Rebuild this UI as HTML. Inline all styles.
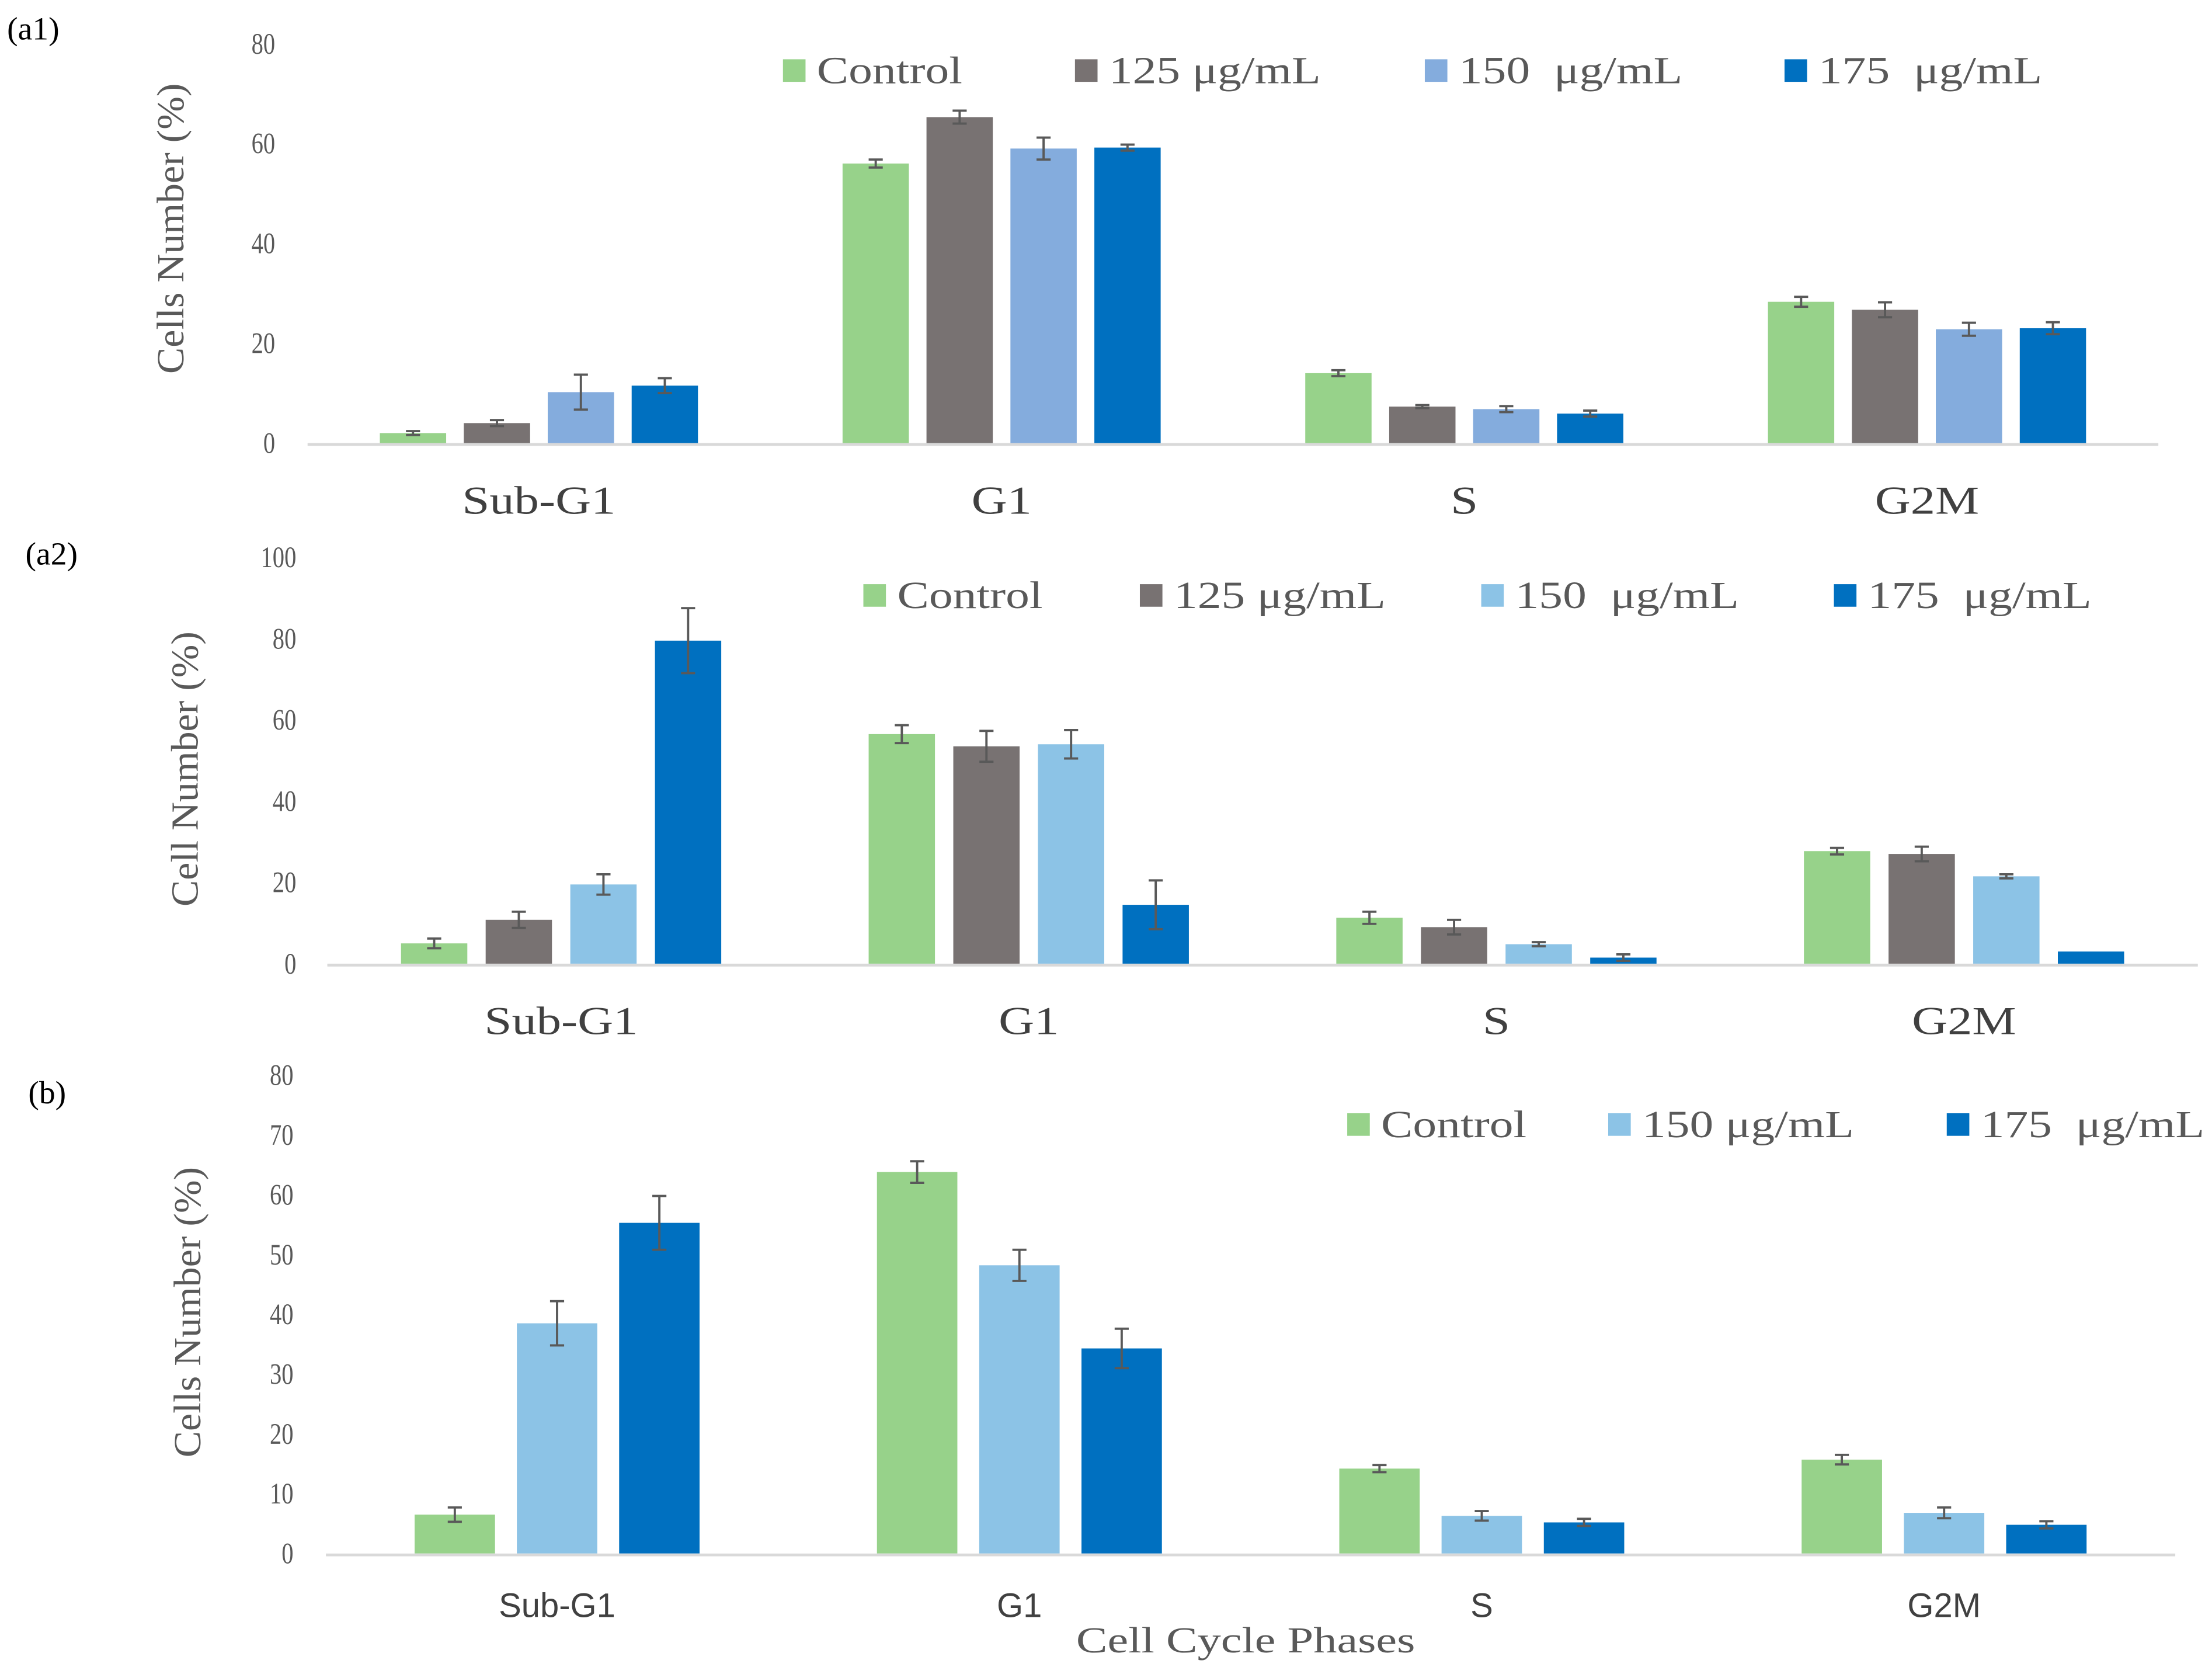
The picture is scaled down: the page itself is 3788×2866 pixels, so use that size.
<!DOCTYPE html>
<html><head><meta charset="utf-8"><style>
html,body{margin:0;padding:0;background:#fff;}
svg{display:block;}
text{white-space:pre;}
</style></head><body>
<svg id="fig" width="3788" height="2866" viewBox="0 0 1568 1186.4" xmlns="http://www.w3.org/2000/svg"></svg>
<script>
const categories = ["Sub-G1","G1","S","G2M"];
// Panel a1
const a1Series = ["Control","125 μg/mL","150  μg/mL","175  μg/mL"];
const a1Control = [2,56,14,28.3];
const a1C125 = [4,65.3,7.3,26.7];
const a1C150 = [10.2,59,6.8,22.8];
const a1C175 = [11.5,59.2,5.9,23];
const a1ErrControl = [0.4,0.8,0.6,1];
const a1Err125 = [0.6,1.3,0.3,1.5];
const a1Err150 = [3.5,2.2,0.6,1.3];
const a1Err175 = [1.5,0.6,0.6,1.2];
const a1Ticks = [0,20,40,60,80];
// Panel a2
const a2Series = ["Control","125 μg/mL","150  μg/mL","175  μg/mL"];
const a2Control = [5,56.5,11.3,27.7];
const a2C125 = [10.8,53.5,9,27];
const a2C150 = [19.5,54,4.8,21.5];
const a2C175 = [79.5,14.5,1.5,3];
const a2ErrControl = [1.2,2.2,1.5,0.8];
const a2Err125 = [2,3.8,1.8,1.8];
const a2Err150 = [2.5,3.5,0.5,0.5];
const a2Err175 = [8,6,0.8,0];
const a2Ticks = [0,20,40,60,80,100];
// Panel b
const bSeries = ["Control","150 μg/mL","175  μg/mL"];
const bControl = [6.5,63.8,14.2,15.7];
const bC150 = [38.5,48.2,6.3,6.8];
const bC175 = [55.3,34.3,5.2,4.8];
const bErrControl = [1.2,1.8,0.6,0.8];
const bErr150 = [3.7,2.6,0.8,0.9];
const bErr175 = [4.5,3.3,0.6,0.6];
const bTicks = [0,10,20,30,40,50,60,70,80];

const NS="http://www.w3.org/2000/svg";
const svg=document.getElementById('fig');
const SERIF='"Liberation Serif",serif', SANS='"Liberation Sans",sans-serif';
function mk(tag,attrs,parent){const e=document.createElementNS(NS,tag);for(const k in attrs)e.setAttribute(k,attrs[k]);(parent||svg).appendChild(e);return e;}
function txt(s,attrs,parent,font,widthScale){
  const t=mk('text',attrs,parent);t.textContent=s;t.style.fontFamily=font||SERIF;
  if(widthScale){const w=t.getComputedTextLength();if(w>0){t.setAttribute('textLength',w*widthScale);t.setAttribute('lengthAdjust','spacingAndGlyphs');}}
  return t;
}

function panel(cfg){
  const g=mk('g',{});
  
  
  const max=cfg.ticks[cfg.ticks.length-1];
  const y=v=>cfg.y0-(v/max)*(cfg.y0-cfg.yTop);
  const cw=(cfg.x1-cfg.x0)/categories.length;
  const xc=i=>cfg.x0+cw*(i+0.5);
  const pl=txt(cfg.label,{x:cfg.labelX,y:cfg.labelY,'font-size':23,fill:'#000'},g);
  
  
  cfg.ticks.forEach(t=>{
    const tt=txt(String(t),{x:cfg.tickX,y:y(t)+7,'font-size':21,fill:'#595959','text-anchor':'end',transform:`translate(${cfg.tickX},0) scale(0.8,1) translate(${-cfg.tickX},0)`},g);
    
    
  });
  const yt=txt(cfg.yTitle,{x:0,y:0,'font-size':27,fill:'#595959','text-anchor':'middle',transform:`translate(${cfg.titleX},${cfg.titleY}) rotate(-90)`},g,SERIF,1.04);
  
  
  const n=cfg.series.length;
  cfg.series.forEach((s,si)=>{
    s.values.forEach((v,ci)=>{
      const bx=xc(ci)-(n*cfg.step-(cfg.step-cfg.bw))/2+si*cfg.step;
      const r=mk('rect',{x:bx,y:y(v),width:cfg.bw,height:y(0)-y(v),fill:s.color},g);
      
      
      const e=s.err[ci];
      if(e>0){
        const cx=bx+cfg.bw/2;
        const p=mk('path',{d:`M${cx},${y(v+e)}V${y(v-e)}M${cx-5},${y(v+e)}h10M${cx-5},${y(v-e)}h10`,stroke:'#595959','stroke-width':1.6,fill:'none'},g);
        
        
      }
    });
  });
  const ax=mk('line',{x1:cfg.x0,x2:cfg.x1,y1:cfg.y0+1,y2:cfg.y0+1,stroke:'#d9d9d9','stroke-width':2},g);
  
  
  categories.forEach((c,ci)=>{
    const t=txt(c,{x:xc(ci),y:cfg.catY,'font-size':cfg.catSize,fill:'#404040','text-anchor':'middle'},g,cfg.catFont,cfg.catScale);
    
    
  });
  cfg.series.forEach((s,si)=>{
    const lx=cfg.legX[si];
    const r=mk('rect',{x:lx,y:cfg.legY-8,width:16,height:16,fill:s.color},g);
    
    
    const t=txt(s.name,{x:lx+24,y:cfg.legY+9,'font-size':27,fill:'#595959'},g,SERIF,1.25);
    
    
  });
}
const G='#97d28a',GR='#787272',LB1='#84acdd',LB='#8cc3e6',DB='#0070c0';
panel({name:'panel-a1',label:'(a1)',labelX:5,labelY:28,ticks:a1Ticks,y0:314,yTop:31,x0:218,x1:1530,tickX:195,
  titleX:130,titleY:162,yTitle:'Cells Number (%)',bw:47,step:59.5,catY:364,catSize:28,catFont:SERIF,catScale:1.25,
  legY:50,legX:[555,762,1010,1265],
  series:[{name:a1Series[0],values:a1Control,err:a1ErrControl,color:G},{name:a1Series[1],values:a1C125,err:a1Err125,color:GR},
  {name:a1Series[2],values:a1C150,err:a1Err150,color:LB1},{name:a1Series[3],values:a1C175,err:a1Err175,color:DB}]});
panel({name:'panel-a2',label:'(a2)',labelX:18,labelY:400,ticks:a2Ticks,y0:683,yTop:395,x0:232,x1:1558,tickX:210,
  titleX:140,titleY:545,yTitle:'Cell Number (%)',bw:47,step:60,catY:733,catSize:28,catFont:SERIF,catScale:1.25,
  legY:422,legX:[612,808,1050,1300],
  series:[{name:a2Series[0],values:a2Control,err:a2ErrControl,color:G},{name:a2Series[1],values:a2C125,err:a2Err125,color:GR},
  {name:a2Series[2],values:a2C150,err:a2Err150,color:LB},{name:a2Series[3],values:a2C175,err:a2Err175,color:DB}]});
panel({name:'panel-b',label:'(b)',labelX:20,labelY:782,ticks:bTicks,y0:1101,yTop:762,x0:231,x1:1542,tickX:208,
  titleX:142,titleY:930,yTitle:'Cells Number (%)',bw:57,step:72.5,catY:1146,catSize:24,catFont:SANS,catScale:1.0,
  legY:797,legX:[955,1140,1380],
  series:[{name:bSeries[0],values:bControl,err:bErrControl,color:G},{name:bSeries[1],values:bC150,err:bErr150,color:LB},
  {name:bSeries[2],values:bC175,err:bErr175,color:DB}]});
const xt=txt('Cell Cycle Phases',{x:883,y:1171,'font-size':26,fill:'#595959','text-anchor':'middle'},svg,SERIF,1.28);


</script>
</body></html>
